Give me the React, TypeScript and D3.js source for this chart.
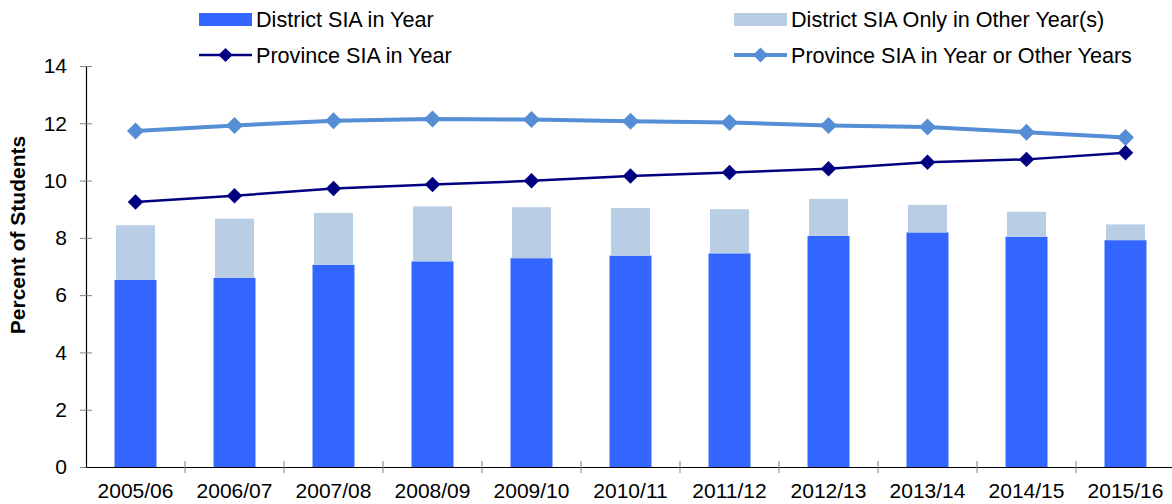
import { useEffect, useRef } from "react";
import * as d3 from "d3";

const years = [
  "2005/06", "2006/07", "2007/08", "2008/09", "2009/10", "2010/11",
  "2011/12", "2012/13", "2013/14", "2014/15", "2015/16",
];
const districtInYear = [6.53, 6.6, 7.06, 7.18, 7.29, 7.38, 7.46, 8.07, 8.19, 8.04, 7.92];
const districtOtherYears = [1.91, 2.07, 1.81, 1.92, 1.78, 1.66, 1.54, 1.29, 0.96, 0.87, 0.55];
const provinceInYear = [9.25, 9.47, 9.72, 9.86, 9.99, 10.16, 10.28, 10.41, 10.64, 10.74, 10.97];
const provinceAnyYear = [11.73, 11.92, 12.09, 12.15, 12.13, 12.07, 12.03, 11.92, 11.87, 11.69, 11.5];
const yTicks = [0, 2, 4, 6, 8, 10, 12, 14];

const WIDTH = 1172;
const HEIGHT = 504;
const FONT = "'Liberation Sans', Arial, sans-serif";

const DARK_BAR = "#3366FF";
const LIGHT_BAR = "#B9CDE5";
const DARK_LINE = "#000080";
const LIGHT_LINE = "#558ED5";

export default function App() {
  const ref = useRef<SVGSVGElement>(null);

  useEffect(() => {
    const svg = d3.select(ref.current);
    svg.selectAll("*").remove();

    const left = 86;
    const right = 1175;
    const top = 66;
    const bottom = 467;

    const x = d3.scaleBand().domain(years).range([left, right]).padding(0);
    const y = d3.scaleLinear().domain([0, 14]).range([bottom, top]);
    const barW = x.bandwidth() * 0.424;
    const cx = (d: string) => (x(d) as number) + x.bandwidth() / 2;

    const rows = years.map((yr, i) => ({
      year: yr,
      inYear: districtInYear[i],
      other: districtOtherYears[i],
    }));
    const stacked = d3.stack<any>().keys(["inYear", "other"])(rows);

    // bars
    stacked.forEach((layer, li) => {
      const w = li === 0 ? barW : barW - 3;
      svg
        .append("g")
        .attr("fill", li === 0 ? DARK_BAR : LIGHT_BAR)
        .selectAll("rect")
        .data(layer)
        .enter()
        .append("rect")
        .attr("x", (d: any) => cx(d.data.year) - w / 2)
        .attr("y", (d) => y(d[1]))
        .attr("width", w)
        .attr("height", (d) => y(d[0]) - y(d[1]));
    });

    // y axis
    const yAxis = svg
      .append("g")
      .attr("transform", `translate(${left},0)`)
      .call(
        d3.axisLeft(y).tickValues(yTicks).tickSizeInner(6).tickSizeOuter(0).tickPadding(13)
      );
    yAxis.select(".domain").attr("stroke", "#000").attr("stroke-width", 1.2);
    yAxis.selectAll(".tick line").attr("x1", 6).attr("stroke", "#808080");
    yAxis
      .selectAll(".tick text")
      .attr("font-family", FONT)
      .attr("font-size", 21)
      .attr("fill", "#000");

    // x axis
    const xAxis = svg
      .append("g")
      .attr("transform", `translate(0,${bottom})`)
      .call(d3.axisBottom(x).tickSize(0).tickPadding(16));
    xAxis.select(".domain").attr("stroke", "#000").attr("stroke-width", 1.2);
    xAxis
      .selectAll(".tick text")
      .attr("font-family", FONT)
      .attr("font-size", 21)
      .attr("fill", "#000");

    const bounds = years.map((d) => x(d) as number).concat([right]);
    svg
      .append("g")
      .selectAll("line")
      .data(bounds.slice(1))
      .enter()
      .append("line")
      .attr("x1", (d) => d)
      .attr("x2", (d) => d)
      .attr("y1", bottom - 6)
      .attr("y2", bottom + 6)
      .attr("stroke", "#808080");

    // lines
    const series = [
      { values: provinceAnyYear, color: LIGHT_LINE, width: 4, size: 145 },
      { values: provinceInYear, color: DARK_LINE, width: 2.5, size: 120 },
    ];
    const line = d3
      .line<number>()
      .x((_, i) => cx(years[i]))
      .y((d) => y(d));
    const marker = (size: number) => d3.symbol().type(d3.symbolSquare).size(size)();

    series.forEach((s) => {
      svg
        .append("path")
        .attr("d", line(s.values))
        .attr("fill", "none")
        .attr("stroke", s.color)
        .attr("stroke-width", s.width);
      svg
        .append("g")
        .selectAll("path")
        .data(s.values)
        .enter()
        .append("path")
        .attr("d", marker(s.size))
        .attr("transform", (d, i) => `translate(${cx(years[i])},${y(d)}) rotate(45)`)
        .attr("fill", s.color);
    });

    // y label
    svg
      .append("text")
      .attr("transform", "translate(25,235) rotate(-90)")
      .attr("text-anchor", "middle")
      .attr("font-family", FONT)
      .attr("font-size", 21)
      .attr("font-weight", "bold")
      .text("Percent of Students");

    // legend
    const legend = [
      { label: "District SIA in Year", type: "bar", color: DARK_BAR, lx: 199, row: 0 },
      { label: "District SIA Only in Other Year(s)", type: "bar", color: LIGHT_BAR, lx: 734, row: 0 },
      { label: "Province SIA in Year", type: "line", color: DARK_LINE, lx: 199, row: 1, w: 2.5, size: 100 },
      { label: "Province SIA in Year or Other Years", type: "line", color: LIGHT_LINE, lx: 734, row: 1, w: 4, size: 110 },
    ];
    legend.forEach((item) => {
      const g = svg.append("g");
      const rowY = item.row === 0 ? 19.5 : 55;
      const sw = 53;
      if (item.type === "bar") {
        g.append("rect")
          .attr("x", item.lx)
          .attr("y", rowY - 6.5)
          .attr("width", sw)
          .attr("height", 13)
          .attr("fill", item.color);
      } else {
        g.append("line")
          .attr("x1", item.lx)
          .attr("x2", item.lx + sw)
          .attr("y1", rowY)
          .attr("y2", rowY)
          .attr("stroke", item.color)
          .attr("stroke-width", item.w as number);
        g.append("path")
          .attr("d", marker(item.size as number))
          .attr("transform", `translate(${item.lx + sw / 2},${rowY}) rotate(45)`)
          .attr("fill", item.color);
      }
      g.append("text")
        .attr("x", item.lx + sw + 4)
        .attr("y", rowY + 7.5)
        .attr("font-family", FONT)
        .attr("font-size", 21.6)
        .attr("fill", "#000")
        .text(item.label);
    });
  }, []);

  return (
    <svg
      ref={ref}
      width={WIDTH}
      height={HEIGHT}
      style={{ position: "absolute", left: 0, top: 0, background: "#fff" }}
    />
  );
}
